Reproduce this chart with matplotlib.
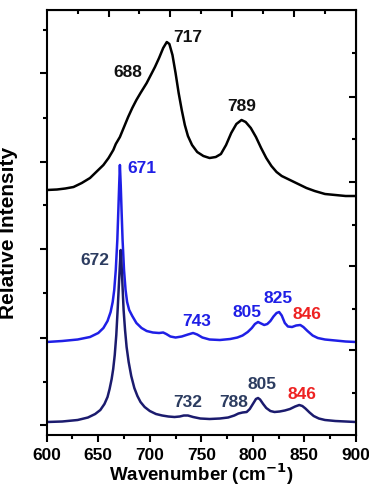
import numpy as np
import matplotlib
matplotlib.use('Agg')
import matplotlib.pyplot as plt

plt.rcParams['font.family'] = ['Liberation Sans', 'DejaVu Sans']
plt.rcParams['font.weight'] = 'bold'

# Spectra (wavenumber, relative intensity in arbitrary units)
top_x = [600, 610, 618, 626, 634, 642, 648, 655, 660, 664.6, 667, 671, 675, 679,
         683, 687, 691, 697, 701, 705, 709, 713, 716.5, 719, 722, 725, 728, 731,
         734, 737, 741, 746, 752, 758, 764, 769, 774, 779, 784, 789, 793, 798,
         803, 808, 813, 818, 823, 828, 834, 840, 846, 852, 860, 870, 880, 890, 900]
top_y = [245, 245.5, 246.5, 248, 252, 257, 263, 270, 277, 285, 291, 298, 308, 318,
         327, 335, 342, 352, 360, 368, 377, 387, 393, 391, 380, 362, 342, 325,
         310, 299, 290, 283, 279, 277, 278, 281, 290, 302, 311, 315, 313, 307,
         298, 287, 277, 269, 263, 259, 256, 253, 250, 247, 244, 241, 240, 239, 239]

mid_x = [600, 615, 630, 642, 650, 655, 659, 662, 664, 665.5, 667, 668.5, 669.5,
         670.3, 671, 671.8, 672.6, 673.6, 675, 676.5, 678, 680, 683, 687, 692,
         697, 703, 709, 713, 716, 720, 725, 731, 737, 742, 746, 751, 758, 768,
         778, 785, 790, 795, 799, 802, 805, 808, 811, 814, 817, 820, 823, 825.5,
         828, 831, 834, 838, 842, 846, 849, 853, 858, 863, 870, 880, 890, 900]
mid_y = [93, 94, 95.5, 98, 102, 107, 114, 123, 133, 145, 165, 195, 225,
         250, 270, 250, 225, 195, 165, 145, 133, 125, 119, 112, 107,
         104, 102.5, 102, 102.5, 101, 98.5, 97.5, 98.5, 100.5, 102, 100.5, 97.5,
         95.5, 95, 96, 97.5, 99.5, 103, 107, 111, 113, 111.5, 110, 111, 114,
         118.5, 122, 123, 119.5, 112, 108.5, 108, 109.5, 110, 108, 104, 99.5,
         97, 95.5, 94.5, 93.5, 93]

low_x = [600, 615, 630, 640, 647, 652, 656, 659, 661, 663, 664.5, 666, 667.5,
         668.8, 670, 671, 671.8, 672.6, 673.5, 674.6, 676, 677.5, 679.5, 682,
         685, 688, 691, 695, 700, 706, 712, 718, 724, 729, 733, 737, 742, 749,
         758, 768, 776, 782, 786, 790, 794, 797, 800, 803, 805, 807, 810, 813,
         817, 821, 826, 831, 836, 841, 845, 848, 851, 855, 859, 864, 870, 880,
         890, 900]
low_y = [13, 13.5, 15, 17.5, 21, 25, 31, 38, 46, 56, 66, 80, 100,
         125, 150, 170, 185, 170, 150, 125, 105, 88, 73, 59,
         47, 39, 33, 28, 24, 21, 19.5, 18.5, 18, 18.5, 19.5, 19.5, 18, 16.5,
         16, 16.5, 17.5, 19.5, 21.5, 22.5, 23, 26, 31, 36, 37, 35.5, 31, 27,
         24, 23, 23.5, 24.5, 26, 28.5, 30, 29, 26.5, 22.5, 19, 16.5, 15, 14,
         13.5, 13]

# Peak labels: (text, x, y)
top_labels = [('717', 737, 398), ('688', 679, 363), ('789', 789, 329)]
mid_labels = [('671', 692, 267), ('743', 745.5, 114), ('805', 794, 123),
              ('825', 824.5, 137)]
low_labels = [('672', 647, 175), ('732', 737, 33), ('788', 781, 33),
              ('805', 808.5, 51)]
red_labels = [('846', 852, 121), ('846', 848, 41)]

c_top = 'black'
c_mid = '#1f1fe6'
c_low = '#1b1b6e'
c_low_txt = '#2c3c60'
c_red = '#ee2222'

fig = plt.figure(figsize=(3.69, 4.88), dpi=100)
ax = fig.add_axes([0.1266, 0.1086, 0.838, 0.8709])

ax.plot(top_x, top_y, color=c_top, lw=1.8)
ax.plot(mid_x, mid_y, color=c_mid, lw=1.8)
ax.plot(low_x, low_y, color=c_low, lw=1.8)

fs_lab = 12.5
for t, x, y in top_labels:
    ax.text(x, y, t, color='#111111', fontsize=fs_lab, ha='center', va='center')
for t, x, y in mid_labels:
    ax.text(x, y, t, color=c_mid, fontsize=fs_lab, ha='center', va='center')
for t, x, y in low_labels:
    ax.text(x, y, t, color=c_low_txt, fontsize=fs_lab, ha='center', va='center')
for t, x, y in red_labels:
    ax.text(x, y, t, color=c_red, fontsize=fs_lab, ha='center', va='center')

ax.set_xlim(600, 900)
ax.set_ylim(0, 425)
for s in ax.spines.values():
    s.set_linewidth(1.5)

# bottom / left ticks (outward)
ax.set_xticks(np.arange(600, 901, 50))
ax.set_xticks(np.arange(625, 900, 50), minor=True)
ax.set_yticks([10, 97, 186, 273, 362])
ax.set_yticks([53, 142, 230, 317, 405], minor=True)
ax.set_yticklabels([])
ax.tick_params(axis='both', which='major', direction='out', length=5, width=1.5,
               labelsize=12.5, pad=4)
ax.tick_params(axis='both', which='minor', direction='out', length=3, width=1.5)
for lab in ax.get_xticklabels():
    lab.set_fontweight('bold')

# top / right ticks (inward)
top = ax.secondary_xaxis('top')
top.set_xticks([660, 720, 780, 840])
top.set_xticks([630, 690, 750, 810, 870], minor=True)
top.set_xticklabels([])
top.tick_params(which='major', direction='in', length=5, width=1.5)
top.tick_params(which='minor', direction='in', length=3, width=1.5)

right = ax.secondary_yaxis('right')
right.set_yticks([85, 169, 253, 338])
right.set_yticks([42, 126, 210, 296, 382], minor=True)
right.set_yticklabels([])
right.tick_params(which='major', direction='in', length=5, width=1.5)
right.tick_params(which='minor', direction='in', length=3, width=1.5)

ax.set_xlabel('Wavenumber (cm$^{\\mathbf{-1}}$)', fontsize=13.5, fontweight='bold',
              labelpad=-1)
ax.set_ylabel('Relative Intensity', fontsize=15, fontweight='bold')
ax.yaxis.set_label_coords(-0.093, 0.475)

fig.savefig('out.png', dpi=100)
